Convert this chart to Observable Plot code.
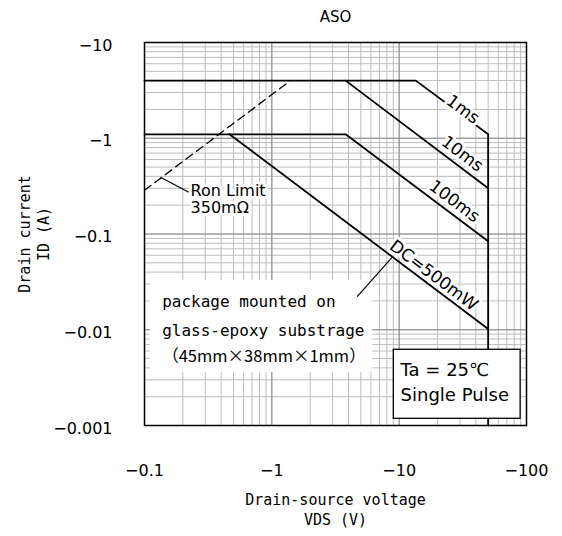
<!DOCTYPE html>
<html><head><meta charset="utf-8">
<script src="https://cdn.jsdelivr.net/npm/d3@7"></script>
<script src="https://cdn.jsdelivr.net/npm/@observablehq/plot@0.6"></script>
<style>body{margin:0;background:#fff}</style>
</head><body><div id="chart"></div>
<script>
// ---- texts ----
const chartTitle = "ASO";
const xTitle = "Drain-source voltage\nVDS (V)";
const yTitle = "Drain current\nID (A)";
// ---- tick labels ----
const xTickValues = [-0.1, -1, -10, -100];
const yTickValues = [-0.001, -0.01, -0.1, -1, -10];
// ---- curves (VDS in V, ID in A) ----
const curve1msV   = [-0.1, -13.5, -50, -50];
const curve1msI   = [-4, -4, -1.1, -0.001];
const curve10msV  = [-3.8, -50];
const curve10msI  = [-4, -0.3];
const curve100msV = [-0.1, -3.8, -50];
const curve100msI = [-1.1, -1.1, -0.084];
const curveDCV    = [-0.465, -50];
const curveDCI    = [-1.1, -0.0102];
const ronLimitV   = [-0.1, -1.4];
const ronLimitI   = [-0.286, -4];
// ---- curve labels ----
const curveLabelText = ["1ms", "10ms", "100ms", "DC=500mW"];
const curveLabelV    = [-31.6, -31.3, -27.2, -18.7];
const curveLabelI    = [-2.0, -0.688, -0.219, -0.0369];
// ---- annotations ----
const ronText = "Ron Limit\n350mΩ";
const ronTextV = -0.23, ronTextI = -0.337;
const ronPointerV = [-0.1335, -0.2228], ronPointerI = [-0.392, -0.273];
const noteLines = ["package mounted on", "glass-epoxy substrage"];
const noteLine3 = "（45mm×38mm×1mm）";
const noteV = -0.1377;
const noteI = [-0.0194, -0.00982, -0.00517];
const noteBoxV = [-0.111, -6.2], noteBoxI = [-0.0327, -0.00358];
const dcPointerV = [-4.68, -8.83], dcPointerI = [-0.0222, -0.0573];
const condLines = ["Ta = 25℃", "Single Pulse"];
const condV = -10.26;
const condI = [-0.0038, -0.00208];
const condBoxV = [-9.08, -89.9], condBoxI = [-0.00618, -0.001175];

const curves = [
  {name: "1ms", vds: curve1msV, id: curve1msI},
  {name: "10ms", vds: curve10msV, id: curve10msI},
  {name: "100ms", vds: curve100msV, id: curve100msI},
  {name: "DC", vds: curveDCV, id: curveDCI}
];
const lineRows = curves.flatMap(c => c.vds.map((v, k) => ({name: c.name, vds: v, id: c.id[k]})));
const ronRows = ronLimitV.map((v, k) => ({vds: v, id: ronLimitI[k]}));
const labelRows = curveLabelText.map((t, k) => ({t, vds: curveLabelV[k], id: curveLabelI[k]}));

const xMinor = d3.scaleLog().domain([0.1, 100]).ticks().map(d => -d);
const yMinor = d3.scaleLog().domain([0.001, 10]).ticks().map(d => -d);

const sans = "DejaVu Sans, sans-serif";
const mono = "DejaVu Sans Mono, monospace";
const cjk = "Noto Sans CJK JP, sans-serif";
const fmt = d => "−" + Math.abs(d);

const chart = Plot.plot({
  width: 562,
  height: 536,
  marginTop: 42,
  marginBottom: 111,
  marginLeft: 144,
  marginRight: 36,
  style: {background: "#fff", color: "#000"},
  x: {type: "log", domain: [-0.1, -100], axis: null},
  y: {type: "log", domain: [-0.001, -10], axis: null},
  marks: [
    Plot.ruleX(xMinor, {stroke: "#bdbdbd", strokeWidth: 1}),
    Plot.ruleY(yMinor, {stroke: "#bdbdbd", strokeWidth: 1}),
    Plot.ruleX(xTickValues, {stroke: "#8a8a8a", strokeWidth: 1}),
    Plot.ruleY(yTickValues, {stroke: "#8a8a8a", strokeWidth: 1}),
    // package note background
    Plot.rect([0], {x1: () => noteBoxV[0], x2: () => noteBoxV[1], y1: () => noteBoxI[0], y2: () => noteBoxI[1], fill: "white"}),
    Plot.line(ronRows, {x: "vds", y: "id", stroke: "black", strokeWidth: 1.3, strokeDasharray: "8,5"}),
    Plot.line(lineRows, {x: "vds", y: "id", z: "name", stroke: "black", strokeWidth: 1.8}),
    Plot.link([0], {x1: () => ronPointerV[0], y1: () => ronPointerI[0], x2: () => ronPointerV[1], y2: () => ronPointerI[1], stroke: "black", strokeWidth: 1.2}),
    Plot.link([0], {x1: () => dcPointerV[0], y1: () => dcPointerI[0], x2: () => dcPointerV[1], y2: () => dcPointerI[1], stroke: "black", strokeWidth: 1.2}),
    Plot.text(labelRows, {x: "vds", y: "id", text: "t", rotate: 37, fontSize: 17, fontFamily: sans, fill: "black", stroke: "white", strokeWidth: 6}),
    Plot.text([ronText], {x: () => ronTextV, y: () => ronTextI, text: d => d, textAnchor: "start", lineAnchor: "top", lineHeight: 1.08, fontSize: 16, fontFamily: sans, fill: "black", stroke: "white", strokeWidth: 6}),
    Plot.text(noteLines, {x: () => noteV, y: (d, k) => noteI[k], text: d => d, textAnchor: "start", fontSize: 16, fontFamily: mono, fill: "black"}),
    Plot.text([noteLine3], {x: () => noteV, y: () => noteI[2], text: d => d, textAnchor: "start", fontSize: 16.5, fontFamily: cjk, fill: "black"}),
    Plot.rect([0], {x1: () => condBoxV[0], x2: () => condBoxV[1], y1: () => condBoxI[0], y2: () => condBoxI[1], fill: "white", stroke: "black", strokeWidth: 1.3}),
    Plot.text(condLines, {x: () => condV, y: (d, k) => condI[k], text: d => d, textAnchor: "start", fontSize: 18, fontFamily: sans, fill: "black"}),
    Plot.frame({stroke: "black", strokeWidth: 1.5}),
    // tick labels
    Plot.text(xTickValues, {x: d => d, frameAnchor: "bottom", lineAnchor: "middle", dy: 45, text: fmt, fontSize: 16, fontFamily: sans, fill: "black"}),
    Plot.text(yTickValues, {y: d => d, frameAnchor: "left", lineAnchor: "middle", dx: -32, dy: 3, textAnchor: "end", text: fmt, fontSize: 16, fontFamily: sans, fill: "black"}),
    // titles
    Plot.text([chartTitle], {frameAnchor: "top", lineAnchor: "middle", dy: -25, fontSize: 15, fontFamily: sans, fill: "black"}),
    Plot.text([xTitle], {frameAnchor: "bottom", lineAnchor: "middle", textAnchor: "middle", dy: 83, lineHeight: 1.33, fontSize: 15, fontFamily: mono, fill: "black"}),
    Plot.text([yTitle], {frameAnchor: "left", lineAnchor: "middle", textAnchor: "middle", dx: -111.5, rotate: -90, lineHeight: 1.27, fontSize: 15, fontFamily: mono, fill: "black"})
  ]
});
document.getElementById("chart").append(chart);
</script>
</body></html>
